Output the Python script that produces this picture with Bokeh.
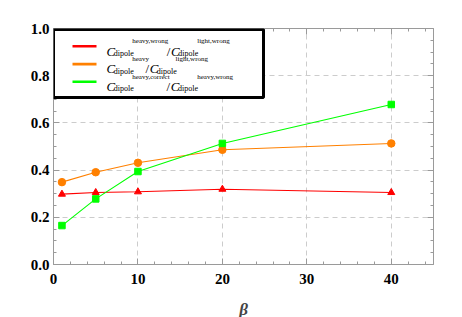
from bokeh.plotting import figure
from bokeh.models import (Range1d, LinearAxis, FixedTicker, PrintfTickFormatter,
                          CustomJSTickFormatter, BoxAnnotation, Label)
from bokeh.embed import file_html
from bokeh.resources import INLINE

# ---- data ----
beta = [1, 5, 10, 20, 40]
ratio_wrong = [0.298, 0.305, 0.308, 0.319, 0.305]     # red
ratio_heavy = [0.349, 0.391, 0.431, 0.486, 0.513]     # orange
ratio_correct = [0.165, 0.278, 0.394, 0.513, 0.678]   # green

x_ticks = [0, 10, 20, 30, 40]
y_ticks = [0.0, 0.2, 0.4, 0.6, 0.8, 1.0]

RED = "#ff0000"
ORANGE = "#ff8000"
GREEN = "#00ff00"
AXC = "#9a9a9a"

FW, FH = 380, 236
XMAX = 45
p = figure(frame_width=FW, frame_height=FH, output_backend="svg", toolbar_location=None,
           x_range=Range1d(0, XMAX), y_range=Range1d(0, 1.0),
           min_border_left=53, min_border_right=21, min_border_top=28, min_border_bottom=50,
           x_axis_location=None, y_axis_location=None)
p.outline_line_color = None
p.background_fill_color = "white"

xt = FixedTicker(ticks=x_ticks, minor_ticks=list(range(0, 46, 2)))
yt = FixedTicker(ticks=y_ticks, minor_ticks=[i * 0.05 for i in range(21)])

def style(ax):
    ax.axis_line_color = AXC
    ax.major_tick_line_color = AXC
    ax.minor_tick_line_color = AXC
    ax.major_tick_in = 6
    ax.major_tick_out = 0
    ax.minor_tick_in = 3
    ax.minor_tick_out = 0
    ax.major_label_text_font = "Liberation Serif"
    ax.major_label_text_font_style = "bold"
    ax.major_label_text_font_size = "15px"
    ax.major_label_text_color = "black"

xb = LinearAxis(ticker=xt, axis_label="β")
style(xb)
xb.major_label_standoff = 9
xb.axis_label_text_font = "Liberation Serif"
xb.axis_label_text_font_style = "bold italic"
xb.axis_label_text_font_size = "17px"
xb.axis_label_standoff = 13
p.add_layout(xb, "below")

xtop = LinearAxis(ticker=xt, formatter=CustomJSTickFormatter(code="return ''"))
style(xtop)
p.add_layout(xtop, "above")

yl = LinearAxis(ticker=yt, formatter=PrintfTickFormatter(format="%.1f"))
style(yl)
yl.major_label_standoff = 4
p.add_layout(yl, "left")

yr = LinearAxis(ticker=yt, formatter=CustomJSTickFormatter(code="return ''"))
style(yr)
p.add_layout(yr, "right")

p.xgrid.ticker = xt
p.ygrid.ticker = yt
for g in (p.xgrid, p.ygrid):
    g.grid_line_color = "#cccccc"
    g.grid_line_dash = "5 4"
    g.grid_line_width = 1

# ---- series ----
p.line(beta, ratio_wrong, line_color=RED, line_width=1.1)
p.line(beta, ratio_heavy, line_color=ORANGE, line_width=1.1)
p.line(beta, ratio_correct, line_color=GREEN, line_width=1.1)
p.scatter(beta, ratio_wrong, marker="triangle", size=7, color=RED)
p.scatter(beta, ratio_heavy, marker="circle", size=7.5, color=ORANGE)
p.scatter(beta, ratio_correct, marker="square", size=6.5, color=GREEN)

# ---- legend (hand built, pixel positions relative to the frame) ----
def dx(px):
    return (px - 53) * XMAX / FW

def dy(py):
    return (264 - py) / FH

p.add_layout(BoxAnnotation(left=dx(53), right=dx(263), top=dy(29), bottom=dy(97),
                           fill_color="white", fill_alpha=1.0,
                           line_color="black", line_alpha=1.0, line_width=3))

legend_colors = [RED, ORANGE, GREEN]
legend_baselines = [50.5, 68.3, 86.0]
legend_rows = [
    [("C", "main", 106), ("dipole", "sub", 113.3), ("heavy,wrong", "sup", 131.8),
     ("/", "slash", 166.3), ("C", "main", 170.5), ("dipole", "sub", 177.7), ("light,wrong", "sup", 196.7)],
    [("C", "main", 106), ("dipole", "sub", 113.3), ("heavy", "sup", 131.7),
     ("/", "slash", 145.0), ("C", "main", 149.3), ("dipole", "sub", 156.3), ("light,wrong", "sup", 175.0)],
    [("C", "main", 106), ("dipole", "sub", 113.3), ("heavy,correct", "sup", 131.7),
     ("/", "slash", 166.0), ("C", "main", 170.3), ("dipole", "sub", 177.5), ("heavy,wrong", "sup", 196.7)],
]
piece_style = {
    "main": ("13px", "italic", 0.0),
    "slash": ("13px", "normal", 0.0),
    "sub": ("8px", "normal", 2.3),
    "sup": ("7px", "normal", -10.0),
}

for color, base, row in zip(legend_colors, legend_baselines, legend_rows):
    mid = base - 4.7
    p.add_layout(BoxAnnotation(left=dx(72), right=dx(96), top=dy(mid - 1.3), bottom=dy(mid + 1.3),
                               fill_color=color, fill_alpha=1.0, line_color=None))
    for txt, kind, px in row:
        size, fstyle, shift = piece_style[kind]
        p.add_layout(Label(x=dx(px), y=dy(base + shift), text=txt,
                           text_font="Liberation Serif", text_font_size=size,
                           text_font_style=fstyle, text_color="black",
                           text_baseline="alphabetic", text_align="left"))

open("out.html", "w").write(file_html(p, INLINE))
